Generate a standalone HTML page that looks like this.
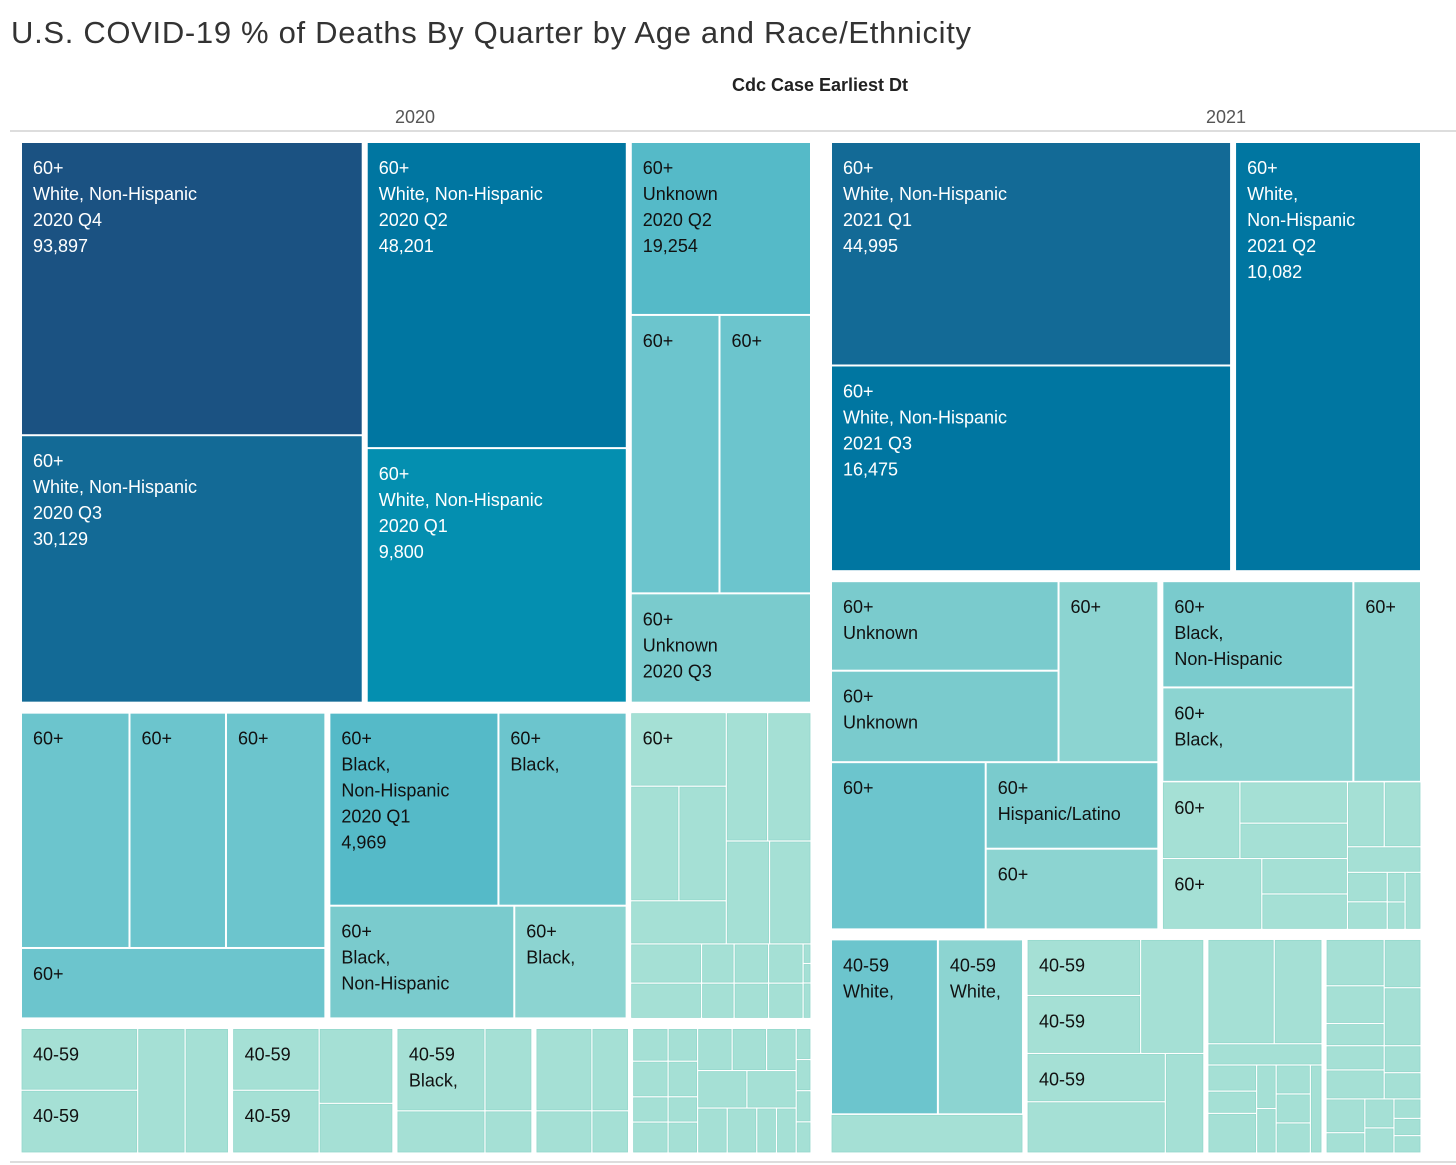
<!DOCTYPE html>
<html><head><meta charset="utf-8">
<style>
body{margin:0;background:#fff;width:1456px;height:1165px;overflow:hidden;font-family:"Liberation Sans",sans-serif}
svg{display:block}
</style></head>
<body>
<svg id="chart" width="1456" height="1165" xmlns="http://www.w3.org/2000/svg">
<text x="11" y="43" font-size="31" fill="#333" font-family="Liberation Sans, sans-serif" textLength="960">U.S. COVID-19 % of Deaths By Quarter by Age and Race/Ethnicity</text>
<text x="820" y="91" font-size="18" font-weight="bold" fill="#222" text-anchor="middle">Cdc Case Earliest Dt</text>
<text x="415" y="123" font-size="18" fill="#555" text-anchor="middle">2020</text>
<text x="1226" y="123" font-size="18" fill="#555" text-anchor="middle">2021</text>
<line x1="10" y1="131" x2="1456" y2="131" stroke="#ddd" stroke-width="2"/>
<line x1="10" y1="1162" x2="1456" y2="1162" stroke="#ddd" stroke-width="2"/>
<g id="cells"></g>
</svg>
<script>
// Colour keys
const colors = {a:'#1b5282',b:'#136a96',c:'#0076a1',d:'#048fb0',e:'#55bac8',f:'#6cc5cd',g:'#7acbcd',h:'#8cd4d1',i:'#a5e0d5'};
// Treemap size values (leaf: [size, colourKey, label])
const tree2020 = ['v',[
 ['h',[
  ['v',[[1012,'a','60+\nWhite, Non-Hispanic\n2020 Q4\n93,897'],[923,'b','60+\nWhite, Non-Hispanic\n2020 Q3\n30,129']]],
  ['v',[[807,'c','60+\nWhite, Non-Hispanic\n2020 Q2\n48,201'],[671,'d','60+\nWhite, Non-Hispanic\n2020 Q1\n9,800']]],
  ['v',[[318,'e','60+\nUnknown\n2020 Q2\n19,254'],['h',[[252,'f','60+'],[260,'f','60+']]],[201,'g','60+\nUnknown\n2020 Q3']]]
 ]],
 ['h',[
  ['v',[['h',[[262,'f','60+'],[233,'f','60+'],[240,'f','60+']]],[220,'f','60+']]],
  ['v',[['h',[[335,'e','60+\nBlack,\nNon-Hispanic\n2020 Q1\n4,969'],[254,'f','60+\nBlack,']]],['h',[[214,'g','60+\nBlack,\nNon-Hispanic'],[130,'h','60+\nBlack,']]]]],
  ['v',[
   ['h',[['v',[[72.8,'i','60+'],['h',[[57.3,'i',''],[56.2,'i','']]],[42.7,'i','']]],['v',[['h',[[55,'i',''],[57.6,'i','']]],['h',[[46.2,'i',''],[44.1,'i','']]]]]]],
   ['h',[['v',[['h',[[28.8,'i',''],[13.2,'i','']]],['h',[[25.9,'i',''],[11.9,'i','']]]]],['v',[['h',[[14,'i',''],[14,'i','']]],['h',[[12.6,'i',''],[12.6,'i','']]]]],['v',[[1.6,'i',''],[1.6,'i',''],[2.9,'i','']]]]]
  ]]
 ]],
 ['h',[
  ['h',[['v',[[77.9,'i','40-59'],[79.1,'i','40-59']]],[63.8,'i',''],[58.5,'i','']]],
  ['h',[['v',[[58.1,'i','40-59'],[59,'i','40-59']]],['v',[[60,'i',''],[39.8,'i','']]]]],
  ['h',[['v',[[79.2,'i','40-59\nBlack,'],[40.5,'i','']]],['v',[[42.2,'i',''],[21.6,'i','']]]]],
  ['h',[['v',[[51,'i',''],[26.1,'i','']]],['v',[[33.4,'i',''],[17.1,'i','']]]]],
  ['h',[['v',[[12.6,'i',''],[13.7,'i',''],[9.7,'i',''],[11.9,'i','']]],['v',[[10.5,'i',''],[11.4,'i',''],[8.1,'i',''],[9.9,'i','']]],
   ['v',[['h',[[15.75,'i',''],[15.75,'i',''],[13.5,'i','']]],['h',[[20,'i',''],[20,'i','']]],['h',[[14.4,'i',''],[14.4,'i',''],[9.6,'i',''],[9.6,'i','']]]]],
   ['v',[[5,'i',''],[5,'i',''],[5,'i',''],[5,'i','']]]]]
 ]]
]];
const tree2021 = ['v',[
 ['h',[
  ['v',[[904,'b','60+\nWhite, Non-Hispanic\n2021 Q1\n44,995'],[832,'c','60+\nWhite, Non-Hispanic\n2021 Q3\n16,475']]],
  [816,'c','60+\nWhite,\nNon-Hispanic\n2021 Q2\n10,082']
 ]],
 ['h',[
  ['v',[['h',[['v',[[207.5,'g','60+\nUnknown'],[212,'g','60+\nUnknown']]],[184,'h','60+']]],
        ['h',[[263.5,'f','60+'],['v',[[152.2,'g','60+\nHispanic/Latino'],[141.9,'h','60+']]]]]]],
  ['v',[['h',[['v',[[207.4,'g','60+\nBlack,\nNon-Hispanic'],[184.3,'h','60+\nBlack,']]],[138.7,'h','60+']]],
        ['h',[['v',[['h',[[60.8,'i','60+'],['v',[[45.4,'i',''],[38.9,'i','']]]]],['h',[[72,'i','60+'],['v',[[31,'i',''],[31,'i','']]]]]]],
              ['v',[['h',[[24.4,'i',''],[24.4,'i','']]],[19.2,'i',''],['h',[['v',[[12,'i',''],[11.2,'i','']]],['v',[[5.4,'i',''],[5,'i','']]],[9.3,'i','']]]]]]]]]
 ]],
 ['h',[
  ['v',[['h',[[195.5,'f','40-59\nWhite,'],[155.7,'h','40-59\nWhite,']]],[77.6,'i','']]],
  ['v',[['h',[['v',[[66.7,'i','40-59'],[69,'i','40-59']]],[75.5,'i','']]],['h',[['v',[[70,'i','40-59'],[74.2,'i','']]],[40.2,'i','']]]]],
  ['v',[['h',[[73.4,'i',''],[52.9,'i','']]],[25.7,'i',''],['h',[['v',[[13.5,'i',''],[11.5,'i',''],[20.5,'i','']]],['v',[[9,'i',''],[9.2,'i','']]],['v',[[10.5,'i',''],[10.5,'i',''],[10.9,'i','']]],[10.9,'i','']]]]],
  ['v',[['h',[['v',[[28.8,'i',''],[23.4,'i',''],[13.8,'i','']]],['v',[[19,'i',''],[22.8,'i','']]]]],
        ['h',[['v',[[15,'i',''],[18,'i','']]],['v',[[10.6,'i',''],[10.3,'i','']]]]],
        ['h',[['v',[[14,'i',''],[8.4,'i','']]],['v',[[9,'i',''],[7.8,'i','']]],['v',[[5.6,'i',''],[5,'i',''],[5,'i','']]]]]]]
 ]]
]];

const NS='http://www.w3.org/2000/svg';
const layer=document.getElementById('cells');
function isLeaf(n){return typeof n[0]==='number';}
function total(n){return isLeaf(n)?n[0]:n[1].reduce((s,c)=>s+total(c),0);}
let idx=0;
function draw(n,x,y,w,h){
  const r=document.createElementNS(NS,'rect');
  const g=1;
  r.setAttribute('x',x+g);r.setAttribute('y',y+g);
  r.setAttribute('width',Math.max(0,w-2*g));r.setAttribute('height',Math.max(0,h-2*g));
  r.setAttribute('fill',colors[n[1]]);
  if(n[1]==='i'){r.setAttribute('stroke','#95d8cc');r.setAttribute('stroke-width','0.8');}
  
  
  layer.appendChild(r);
  if(n[2]){
    const dark='abcd'.includes(n[1]);
    n[2].split('\n').forEach((line,i)=>{
      const t=document.createElementNS(NS,'text');
      t.setAttribute('x',x+12);t.setAttribute('y',y+32+i*26);
      t.setAttribute('font-size','18');
      t.setAttribute('fill',dark?'#fff':'#111');
      
      
      t.textContent=line;
      layer.appendChild(t);
    });
  }
}
const pads=[0,3,2,0];
function layout(n,x,y,w,h,depth){
  const p=pads[Math.min(depth,pads.length-1)];
  x+=p;y+=p;w-=2*p;h-=2*p;
  if(isLeaf(n)){draw(n,x,y,w,h);return;}
  const t=total(n);let off=0;
  n[1].forEach(c=>{
    const f=total(c)/t;
    if(n[0]==='h'){layout(c,x+off*w,y,f*w,h,depth+1);}else{layout(c,x,y+off*h,w,f*h,depth+1);}
    off+=f;
  });
}
layout(tree2020,16,137,800,1021,0);
layout(tree2021,826,137,600,1021,0);
</script>
</body></html>
